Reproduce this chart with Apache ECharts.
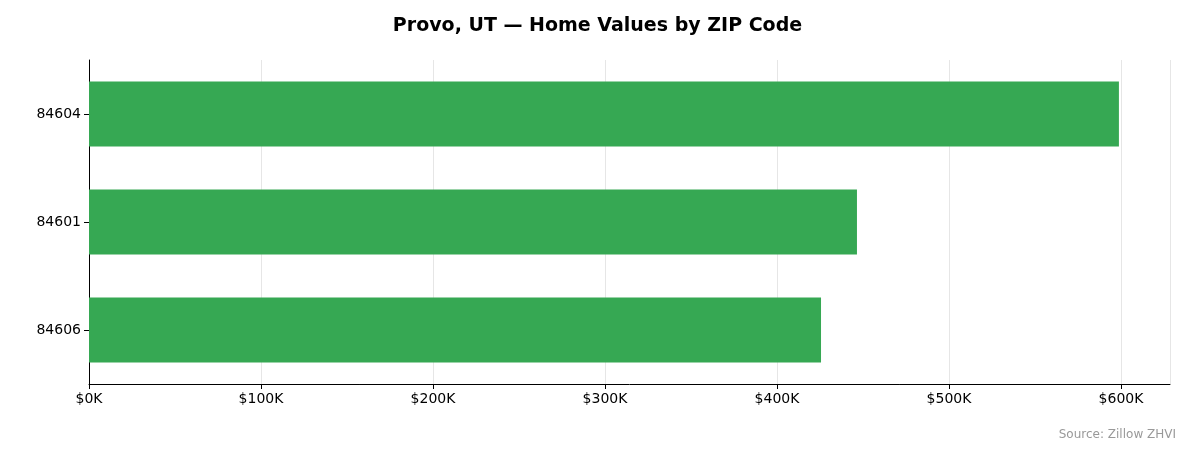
<!DOCTYPE html>
<html><head><meta charset="utf-8">
<script src="https://cdn.jsdelivr.net/npm/echarts@6/dist/echarts.min.js"></script>
<style>html,body{margin:0;padding:0;background:#fff}#c{width:1195px;height:455px}</style>
</head><body><div id="c"></div>
<script>
const categories = ['84606', '84601', '84604'];
const values = [425600, 446500, 598800];
const tickLabels = ['$0K','$100K','$200K','$300K','$400K','$500K','$600K'];
const chart = echarts.init(document.getElementById('c'));
chart.setOption({
  animation: false,
  title: [{text: 'Provo, UT — Home Values by ZIP Code', left: 'center', top: 12,
    textStyle: {fontFamily: 'DejaVu Sans', fontSize: 19, fontWeight: 'bold', color: '#000'}},
    {text: 'Source: Zillow ZHVI', right: 14, top: 424,
    textStyle: {fontFamily: 'DejaVu Sans', fontSize: 12, fontWeight: 'normal', color: '#999'}}],
  grid: {left: 89, right: 25, top: 60, bottom: 71},
  xAxis: {type: 'value', min: 0, max: 628500, interval: 100000,
    axisLine: {show: true, lineStyle: {color: '#000'}},
    axisTick: {show: true, length: 5, lineStyle: {color: '#000'}},
    axisLabel: {fontFamily: 'DejaVu Sans', fontSize: 14, color: '#000', margin: 8, showMaxLabel: false,
      formatter: v => tickLabels[Math.round(v/100000)] || ''},
    splitLine: {show: true, lineStyle: {color: '#e6e6e6'}}},
  yAxis: {type: 'category', data: categories,
    axisLine: {show: true, lineStyle: {color: '#000'}},
    axisTick: {show: true, alignWithLabel: true, length: 5, lineStyle: {color: '#000'}},
    axisLabel: {fontFamily: 'DejaVu Sans', fontSize: 14, color: '#000', margin: 8}},
  series: [{type: 'bar', data: values, barWidth: '60%', itemStyle: {color: '#36a853'}}]
});
</script></body></html>
